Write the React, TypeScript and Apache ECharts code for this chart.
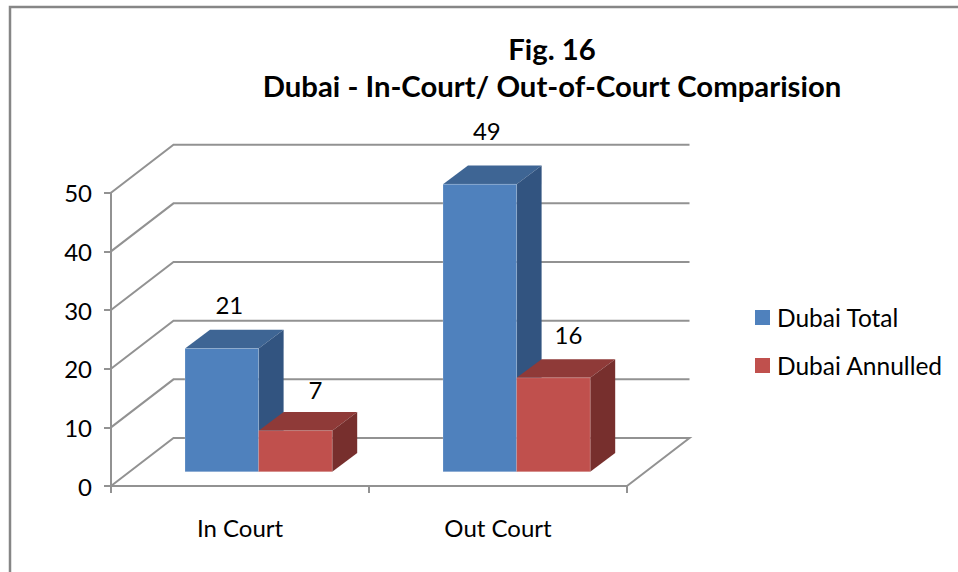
import React, { useEffect, useRef } from "react";
import * as echarts from "echarts";

const categories = ["In Court", "Out Court"];
const totalValues = [21, 49];
const annulledValues = [7, 16];
const gridValues = [0, 10, 20, 30, 40, 50];
const titleText = "Fig. 16\nDubai - In-Court/ Out-of-Court Comparision";

const FONT = "Lato, Carlito, Calibri, sans-serif";
const WALL_DX = 62.5;
const WALL_DY = -48;
const BAR_DX = 25;
const BAR_DY = -18.7;
const BAR_W = 73.6;
const GAP_DX = 18.6;
const GAP_DY = -14.3;
const GRID_COLOR = "#929292";
// label nudges from each bar's front-top centre
const totalLabelNudge = [[7.5, -44], [7, -54]];
const annulledLabelNudge = [[20, -41], [15, -43.5]];

function barRender(side: number, faces: string[], nudges: number[][]) {
  return (_params: any, api: any) => {
    const i = api.value(0);
    const v = api.value(1);
    const zero = api.coord([i, 0]);
    const top = api.coord([i, v]);
    const cx = zero[0] + GAP_DX;
    const x0 = side === 0 ? cx - BAR_W : cx;
    const x1 = x0 + BAR_W;
    const yb = zero[1] + GAP_DY;
    const yt = top[1] + GAP_DY;
    const edge = { stroke: "rgba(255,255,255,0.18)", lineWidth: 1 };
    const n = nudges[i];
    return {
      type: "group",
      children: [
        {
          type: "polygon",
          shape: { points: [[x0, yt], [x1, yt], [x1 + BAR_DX, yt + BAR_DY], [x0 + BAR_DX, yt + BAR_DY]] },
          style: { fill: faces[1] },
        },
        {
          type: "polygon",
          shape: { points: [[x1, yt], [x1 + BAR_DX, yt + BAR_DY], [x1 + BAR_DX, yb + BAR_DY], [x1, yb]] },
          style: { fill: faces[2] },
        },
        {
          type: "polygon",
          shape: { points: [[x0, yt], [x1, yt], [x1, yb], [x0, yb]] },
          style: { fill: faces[0], ...edge },
        },
        {
          type: "text",
          style: {
            x: (x0 + x1) / 2 + n[0],
            y: yt + n[1],
            text: String(v),
            align: "center",
            verticalAlign: "middle",
            fontFamily: FONT,
            fontSize: 24,
            fill: "#000",
          },
        },
      ],
    };
  };
}

export default function App() {
  const ref = useRef<HTMLDivElement>(null);
  useEffect(() => {
    document.body.style.margin = "0";
    document.body.style.background = "#fff";
    const chart = echarts.init(ref.current!, undefined, { renderer: "svg" });
    chart.setOption({
      animation: false,
      backgroundColor: "#fff",
      textStyle: { fontFamily: FONT },
      title: {
        text: titleText,
        left: 547,
        top: 25,
        padding: 5,
        textAlign: "center",
        textStyle: { fontFamily: FONT, fontSize: 29.3, fontWeight: "bold", color: "#000", lineHeight: 37 },
      },
      legend: {
        orient: "vertical",
        left: 755,
        top: 303.5,
        padding: 0,
        itemWidth: 15,
        itemHeight: 15,
        itemGap: 20,
        icon: "rect",
        data: ["Dubai Total", "Dubai Annulled"],
        textStyle: { fontFamily: FONT, fontSize: 24.5, color: "#000", lineHeight: 28, padding: [0, 0, 0, 2] },
      },
      grid: { left: 111, right: 331, top: 192.7, bottom: 86 },
      xAxis: {
        type: "category",
        data: categories,
        axisLine: { lineStyle: { color: GRID_COLOR, width: 2 } },
        axisTick: { show: true, alignWithLabel: false, length: 7, lineStyle: { color: GRID_COLOR, width: 2 } },
        axisLabel: { fontFamily: FONT, fontSize: 24, color: "#000", margin: 29 },
        splitLine: { show: false },
      },
      yAxis: {
        type: "value",
        min: 0,
        max: 50,
        interval: 10,
        axisLine: { show: true, lineStyle: { color: GRID_COLOR, width: 2 } },
        axisTick: { show: true, length: 7, lineStyle: { color: GRID_COLOR, width: 2 } },
        axisLabel: { fontFamily: FONT, fontSize: 24, color: "#000", margin: 19 },
        splitLine: { show: false },
      },
      graphic: [
        {
          type: "polyline",
          shape: { points: [[10, 572], [10, 7], [958, 7]] },
          style: { stroke: "#868686", lineWidth: 2.5, fill: "none" },
          silent: true,
        },
      ],
      series: [
        {
          type: "custom",
          name: "walls",
          z: 1,
          silent: true,
          data: gridValues.map((v) => [v]),
          encode: { y: 0 },
          renderItem: (_p: any, api: any) => {
            const v = api.value(0);
            const a = api.coord([0, v]);
            const size = api.size([1, 0])[0];
            const left = a[0] - size / 2;
            const right = left + size * categories.length;
            return {
              type: "polyline",
              shape: {
                points: v === 0
                  ? [[left, a[1]], [left + WALL_DX, a[1] + WALL_DY], [right + WALL_DX, a[1] + WALL_DY], [right, a[1]]]
                  : [[left, a[1]], [left + WALL_DX, a[1] + WALL_DY], [right + WALL_DX, a[1] + WALL_DY]],
              },
              style: { stroke: GRID_COLOR, lineWidth: 2, fill: "none" },
            };
          },
        },
        {
          type: "custom",
          name: "Dubai Total",
          z: 2,
          itemStyle: { color: "#4F81BD" },
          data: totalValues.map((v, i) => [i, v]),
          encode: { x: 0, y: 1 },
          renderItem: barRender(0, ["#4F81BD", "#3E6594", "#325480"], totalLabelNudge),
        },
        {
          type: "custom",
          name: "Dubai Annulled",
          z: 3,
          itemStyle: { color: "#C0504D" },
          data: annulledValues.map((v, i) => [i, v]),
          encode: { x: 0, y: 1 },
          renderItem: barRender(1, ["#C0504D", "#8F3A38", "#772F2D"], annulledLabelNudge),
        },
      ],
    });
    return () => chart.dispose();
  }, []);
  return <div ref={ref} style={{ width: 958, height: 572 }} />;
}
